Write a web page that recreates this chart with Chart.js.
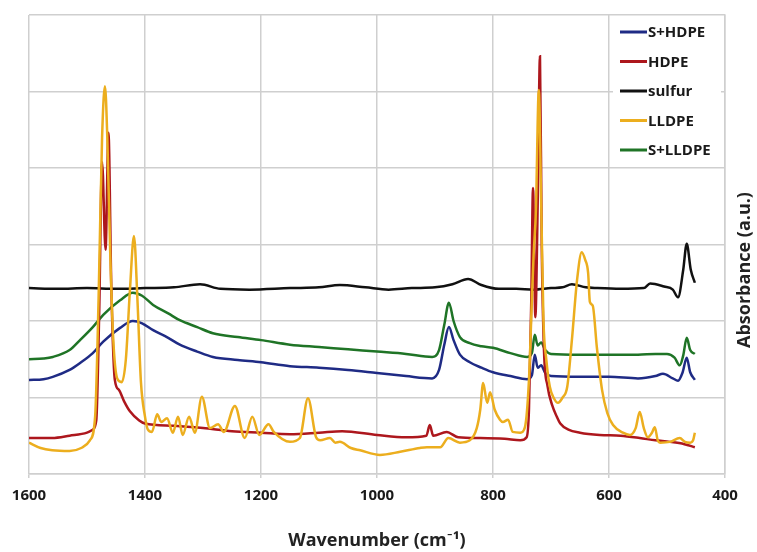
<!DOCTYPE html>
<html><head><meta charset="utf-8">
<script src="https://cdn.jsdelivr.net/npm/chart.js@4.4.1/dist/chart.umd.min.js"></script>
<style>html,body{margin:0;padding:0;background:#fff}canvas{display:block}</style>
</head><body>
<canvas id="c" width="757" height="552"></canvas>
<script>
// ---- data: [wavenumber (cm-1), absorbance (a.u.)] ----
const xTickValues = [1600, 1400, 1200, 1000, 800, 600, 400];
const seriesLabels = ['S+HDPE', 'HDPE', 'sulfur', 'LLDPE', 'S+LLDPE'];

const sHdpe = [[1600,1.23],[1575,1.24],[1559,1.27],[1530,1.36],[1512,1.45],[1490,1.58],[1472,1.73],[1443,1.91],[1421,2.00],[1405,1.97],[1386,1.88],[1360,1.78],[1340,1.69],[1310,1.60],[1283,1.53],[1240,1.49],[1200,1.46],[1150,1.41],[1100,1.39],[1050,1.36],[1000,1.32],[950,1.28],[905,1.25],[893,1.36],[884,1.69],[876,1.92],[868,1.75],[857,1.56],[840,1.46],[820,1.39],[800,1.33],[770,1.28],[741,1.24],[733,1.29],[728,1.56],[723,1.39],[717,1.42],[710,1.32],[700,1.28],[650,1.27],[600,1.27],[550,1.25],[520,1.28],[507,1.31],[490,1.25],[481,1.22],[473,1.33],[466,1.52],[460,1.33],[452,1.23]];

const hdpe = [[1600,0.47],[1560,0.47],[1530,0.50],[1500,0.54],[1490,0.58],[1484,0.70],[1479,2.10],[1474,4.08],[1468,2.93],[1463,4.46],[1458,2.41],[1452,1.23],[1445,1.10],[1436,0.95],[1426,0.82],[1410,0.70],[1400,0.66],[1350,0.63],[1300,0.60],[1250,0.56],[1200,0.54],[1150,0.52],[1100,0.54],[1060,0.56],[1000,0.51],[950,0.48],[915,0.50],[909,0.64],[903,0.50],[880,0.55],[860,0.48],[822,0.47],[780,0.46],[753,0.44],[742,0.48],[738,0.84],[734,2.27],[731,3.74],[727,2.05],[723,3.50],[719,5.46],[716,3.00],[712,1.60],[706,1.15],[698,0.90],[690,0.75],[684,0.66],[670,0.58],[650,0.54],[616,0.51],[580,0.50],[547,0.47],[520,0.44],[495,0.42],[470,0.39],[452,0.35]];

const sulfur = [[1600,2.43],[1550,2.42],[1500,2.43],[1450,2.42],[1400,2.43],[1350,2.44],[1305,2.48],[1270,2.42],[1220,2.41],[1150,2.43],[1100,2.44],[1064,2.47],[1020,2.44],[980,2.41],[940,2.43],[900,2.44],[870,2.48],[843,2.55],[820,2.47],[790,2.42],[760,2.42],[730,2.41],[700,2.43],[680,2.44],[664,2.48],[640,2.44],[620,2.43],[580,2.42],[540,2.43],[529,2.49],[505,2.45],[490,2.41],[481,2.31],[472,2.67],[466,3.01],[459,2.67],[452,2.50]];

const lldpe = [[1600,0.41],[1580,0.34],[1560,0.31],[1530,0.30],[1510,0.34],[1495,0.44],[1486,0.75],[1480,2.30],[1474,4.40],[1469,5.07],[1465,4.40],[1460,2.90],[1455,1.80],[1448,1.25],[1440,1.20],[1433,1.50],[1426,2.40],[1419,3.11],[1413,2.27],[1407,1.20],[1400,0.75],[1395,0.58],[1388,0.55],[1379,0.78],[1372,0.68],[1362,0.73],[1352,0.54],[1343,0.75],[1335,0.51],[1324,0.75],[1314,0.54],[1302,1.01],[1288,0.60],[1274,0.65],[1264,0.55],[1245,0.89],[1228,0.47],[1215,0.75],[1203,0.51],[1187,0.65],[1178,0.55],[1150,0.42],[1133,0.47],[1119,0.99],[1105,0.48],[1098,0.44],[1081,0.47],[1072,0.41],[1064,0.42],[1045,0.34],[1029,0.31],[995,0.25],[960,0.29],[926,0.34],[914,0.35],[891,0.35],[877,0.47],[857,0.41],[840,0.44],[828,0.60],[822,0.84],[817,1.19],[810,0.93],[805,1.07],[797,0.84],[788,0.71],[783,0.68],[774,0.71],[766,0.55],[753,0.54],[745,0.61],[738,1.23],[733,2.27],[730,2.86],[726,3.45],[721,5.02],[717,3.58],[713,2.01],[708,1.49],[702,1.14],[695,0.99],[688,0.93],[680,1.00],[672,1.14],[664,1.75],[655,2.54],[647,2.90],[641,2.80],[636,2.63],[633,2.25],[628,2.20],[621,1.66],[612,1.10],[603,0.80],[593,0.64],[576,0.54],[564,0.51],[554,0.60],[547,0.81],[540,0.60],[533,0.48],[526,0.54],[521,0.61],[516,0.44],[512,0.41],[495,0.42],[478,0.47],[469,0.42],[460,0.41],[455,0.44],[452,0.54]];

const sLldpe = [[1600,1.50],[1575,1.51],[1559,1.53],[1530,1.62],[1512,1.75],[1490,1.92],[1472,2.08],[1443,2.27],[1421,2.37],[1405,2.33],[1386,2.21],[1360,2.10],[1340,2.01],[1310,1.92],[1283,1.84],[1240,1.79],[1200,1.75],[1150,1.69],[1100,1.66],[1050,1.63],[1000,1.60],[950,1.57],[905,1.53],[893,1.62],[884,1.95],[876,2.24],[868,2.00],[857,1.79],[840,1.71],[820,1.67],[800,1.65],[770,1.58],[741,1.53],[733,1.58],[728,1.82],[723,1.68],[717,1.72],[710,1.62],[700,1.57],[650,1.56],[600,1.56],[550,1.56],[520,1.57],[500,1.57],[487,1.52],[478,1.42],[472,1.55],[466,1.78],[460,1.62],[452,1.57]];

const seriesData = [sHdpe, hdpe, sulfur, lldpe, sLldpe];
const seriesColors = ['#1f2b85', '#ad171d', '#111111', '#ecae1e', '#1f7426'];
const drawOrder = [4, 2, 5, 1, 3];

const toPoints = arr => arr.map(p => ({x: p[0], y: p[1]}));
const FONT = '"Open Sans", Lato, sans-serif';

const overlay = {
  id: 'overlay',
  afterDraw(chart) {
    const ctx = chart.ctx, ca = chart.chartArea;
    ctx.save();
    // legend box inside plot (top right)
    const lx = ca.right - 112, ly = ca.top + 3;
    ctx.fillStyle = '#ffffff';
    ctx.fillRect(lx, ly, 108, 146);
    ctx.font = 'bold 15px ' + FONT;
    ctx.textBaseline = 'middle';
    ctx.textAlign = 'left';
    chart.data.datasets.forEach((ds, i) => {
      const y = ca.top + 17 + i * 29.5;
      ctx.strokeStyle = ds.borderColor;
      ctx.lineWidth = 3;
      ctx.beginPath(); ctx.moveTo(lx + 7, y); ctx.lineTo(lx + 34, y); ctx.stroke();
      ctx.fillStyle = '#1a1a1a';
      ctx.fillText(ds.label, lx + 35, y + 1);
    });
    // right-side vertical axis title (reads bottom to top)
    ctx.translate(chart.width - 12, 270);
    ctx.rotate(-Math.PI / 2);
    ctx.textAlign = 'center';
    ctx.font = 'bold 18px ' + FONT;
    ctx.fillStyle = '#222';
    ctx.fillText('Absorbance (a.u.)', 0, 0);
    ctx.restore();
  }
};

new Chart(document.getElementById('c'), {
  type: 'line',
  data: {
    datasets: seriesLabels.map((label, i) => ({
      label,
      data: toPoints(seriesData[i]),
      borderColor: seriesColors[i],
      backgroundColor: seriesColors[i],
      borderWidth: 2.5,
      pointRadius: 0,
      cubicInterpolationMode: 'monotone',
      fill: false,
      order: drawOrder[i]
    }))
  },
  options: {
    responsive: false,
    animation: false,
    devicePixelRatio: 1,
    layout: {padding: {left: 29, top: 15, right: 0, bottom: 0}},
    plugins: {legend: {display: false}, tooltip: {enabled: false}},
    scales: {
      x: {
        type: 'linear',
        reverse: true,
        min: 400, max: 1600,
        afterBuildTicks: s => { s.ticks = xTickValues.map(v => ({value: v})); },
        afterFit: s => { s.height = 78; },
        ticks: {font: {family: FONT, weight: 'bold', size: 15}, color: '#1a1a1a', padding: 9, maxRotation: 0, callback: v => String(v)},
        grid: {color: '#cfcfcf', lineWidth: 1.5, tickLength: 4},
        border: {color: '#cfcfcf', width: 1.5},
        title: {display: true, text: 'Wavenumber (cm\u207B\u00B9)', font: {family: FONT, weight: 'bold', size: 18}, color: '#222', padding: {top: 0, bottom: 0}}
      },
      y: {
        position: 'right',
        min: 0, max: 6,
        ticks: {display: false, stepSize: 1},
        afterFit: s => { s.width = 32; },
        grid: {color: '#cfcfcf', lineWidth: 1.5, drawTicks: false},
        border: {color: '#cfcfcf', width: 1.5},
        title: {display: false}
      }
    }
  },
  plugins: [overlay]
});
</script>
</body></html>
